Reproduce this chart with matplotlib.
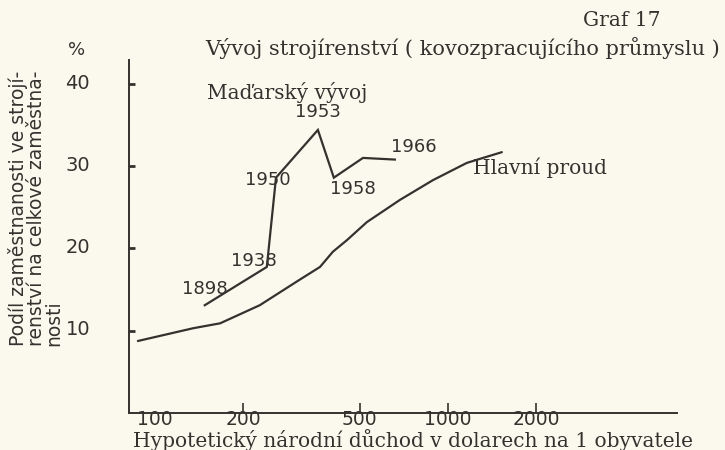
import matplotlib
matplotlib.use("Agg")
import matplotlib.pyplot as plt
import matplotlib.transforms as mtransforms

# ---- data ----
main_income = [87.5, 135, 167, 228, 312, 366, 405, 452, 529, 686, 889, 1161, 1528]
main_share = [8.75, 10.3, 10.9, 13.1, 16.2, 17.75, 19.6, 21.0, 23.2, 25.9, 28.3, 30.4, 31.7]

hu_income = [148, 241, 259, 360, 408, 513, 659]
hu_share = [13.1, 17.75, 28.6, 34.4, 28.6, 31.0, 30.8]

year_labels = ["1898", "1938", "1950", "1953", "1958", "1966"]
year_label_pos = [(148, 15.1), (217, 18.5), (242, 28.3), (360, 36.6), (473, 27.2), (762, 32.3)]

x_ticks = [200, 500, 1000, 2000]
x_tick_labels = ["200", "500", "1000", "2000"]
y_ticks = [10, 20, 30, 40]
y_tick_labels = ["10", "20", "30", "40"]

BG = "#fbf9ee"
INK = "#34322e"

fig = plt.figure(figsize=(7.25, 4.5), dpi=100, facecolor=BG)
ax = fig.add_axes([129/725, 1-413/450, (677-129)/725, (413-60)/450])
ax.set_facecolor(BG)
ax.set_xscale("log")
ax.set_xlim(81.6, 6050)
ax.set_ylim(0, 42.9)

ax.plot(main_income, main_share, color=INK, lw=1.6, solid_capstyle="round")
ax.plot(hu_income, hu_share, color=INK, lw=1.6, solid_joinstyle="miter")

for s in ["top", "right"]:
    ax.spines[s].set_visible(False)
for s in ["left", "bottom"]:
    ax.spines[s].set_color(INK)
    ax.spines[s].set_linewidth(1.4)

ax.minorticks_off()
ax.set_xticks(x_ticks)
ax.set_xticklabels(x_tick_labels)
ax.set_xticks([100], minor=True)
ax.set_xticklabels(["100"], minor=True)
ax.tick_params(axis="x", which="major", direction="in", length=7, width=1.2,
               color=INK, pad=-2, labelsize=13.5, labelcolor=INK)
ax.tick_params(axis="x", which="minor", direction="in", length=0, pad=-2,
               labelsize=13.5, labelcolor=INK)
ax.set_yticks(y_ticks)
ax.set_yticklabels(y_tick_labels)
ax.tick_params(axis="y", direction="in", length=4, width=2, color=INK,
               pad=28, labelsize=14, labelcolor=INK)
off = mtransforms.ScaledTranslation(0, 2/72, fig.dpi_scale_trans)
for lab in ax.get_yticklabels():
    lab.set_transform(lab.get_transform() + off)

serif = "DejaVu Serif"
for txt, (xv, yv) in zip(year_labels, year_label_pos):
    ax.text(xv, yv, txt, ha="center", va="center", fontsize=13, color=INK,
            family="DejaVu Sans")

ax.text(150.5, 39.0, "Maďarský vývoj", ha="left", va="center", fontsize=14.5,
        color=INK, family=serif)
ax.text(1216, 29.8, "Hlavní proud", ha="left", va="center", fontsize=14.5,
        color=INK, family=serif)

fig.text(622/725, 1-20/450, "Graf 17", ha="center", va="center", fontsize=14.5,
         color=INK, family=serif)
fig.text(205/725, 1-48/450, "Vývoj strojírenství ( kovozpracujícího průmyslu )",
         ha="left", va="center", fontsize=15, color=INK, family=serif)
fig.text(77/725, 1-50/450, "%", ha="center", va="center", fontsize=13,
         color=INK, family="DejaVu Sans")
fig.text(413/725, 1-440/450, "Hypotetický národní důchod v dolarech na 1 obyvatele",
         ha="center", va="center", fontsize=14.5, color=INK, family=serif)

ylab_lines = ["Podíl zaměstnanosti ve strojí-", "renství na celkové zaměstna-", "nosti"]
ylab_x = [18, 36, 54]
for xp, line in zip(ylab_x, ylab_lines):
    fig.text(xp/725, 1-346/450, line, rotation=90, ha="left", va="center",
             fontsize=13.5, color=INK, family="DejaVu Sans", rotation_mode="anchor")

fig.savefig("out.png", dpi=100, facecolor=BG)
